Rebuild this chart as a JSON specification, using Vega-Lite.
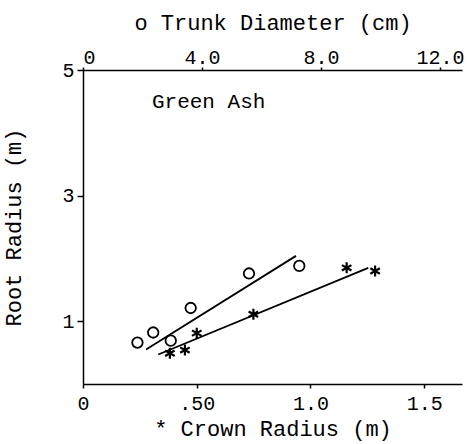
{
  "$schema": "https://vega.github.io/schema/vega-lite/v6.json",
  "width": 379,
  "height": 314,
  "autosize": {"type": "none"},
  "padding": {"left": 83, "top": 70, "right": 6, "bottom": 60},
  "background": "white",
  "config": {
    "view": {"stroke": null},
    "font": "Liberation Mono",
    "axis": {
      "grid": false,
      "domainColor": "black",
      "domainWidth": 1.5,
      "tickColor": "black",
      "tickWidth": 1.5,
      "labelColor": "black",
      "titleColor": "black",
      "labelFont": "Liberation Mono",
      "titleFont": "Liberation Mono",
      "labelFontSize": 20,
      "titleFontSize": 22,
      "titleFontWeight": "normal"
    }
  },
  "datasets": {
    "trunk": [
      {"trunk_cm": 1.83, "root_m": 0.66},
      {"trunk_cm": 2.36, "root_m": 0.82},
      {"trunk_cm": 2.95, "root_m": 0.69},
      {"trunk_cm": 3.62, "root_m": 1.21},
      {"trunk_cm": 5.58, "root_m": 1.76},
      {"trunk_cm": 7.27, "root_m": 1.88}
    ],
    "trunkFit": [
      {"trunk_cm": 2.12, "root_m": 0.55},
      {"trunk_cm": 7.16, "root_m": 2.04}
    ],
    "crown": [
      {"crown_m": 0.382, "root_m": 0.49},
      {"crown_m": 0.448, "root_m": 0.54},
      {"crown_m": 0.50, "root_m": 0.81},
      {"crown_m": 0.749, "root_m": 1.11},
      {"crown_m": 1.159, "root_m": 1.85},
      {"crown_m": 1.284, "root_m": 1.80}
    ],
    "crownFit": [
      {"crown_m": 0.331, "root_m": 0.47},
      {"crown_m": 1.254, "root_m": 1.85}
    ],
    "label": [
      {"crown_m": 0.303, "root_m": 4.49, "text": "Green Ash"}
    ]
  },
  "layer": [
    {
      "layer": [
        {
          "data": {"name": "trunkFit"},
          "mark": {"type": "line", "color": "black", "strokeWidth": 1.8},
          "encoding": {
            "x": {
              "field": "trunk_cm", "type": "quantitative",
              "scale": {"domain": [0, 12.74], "nice": false, "zero": true},
              "axis": {
                "orient": "top",
                "title": "o Trunk Diameter (cm)",
                "values": [0, 4, 8, 12],
                "labelExpr": "datum.value == 0 ? '0' : format(datum.value, '.1f')",
                "tickSize": 3,
                "labelPadding": 0,
                "titlePadding": 13
              }
            },
            "y": {
              "field": "root_m", "type": "quantitative",
              "title": "Root Radius (m)",
              "scale": {"domain": [0, 5], "nice": false},
              "axis": {
                "values": [1, 3, 5],
                "format": "d",
                "tickSize": 6,
                "labelPadding": 3,
                "titlePadding": 36
              }
            }
          }
        },
        {
          "data": {"name": "trunk"},
          "mark": {"type": "point", "shape": "circle", "filled": false, "color": "black", "size": 110, "strokeWidth": 1.8, "opacity": 1},
          "encoding": {
            "x": {"field": "trunk_cm", "type": "quantitative"},
            "y": {"field": "root_m", "type": "quantitative", "title": "Root Radius (m)"}
          }
        }
      ]
    },
    {
      "layer": [
        {
          "data": {"name": "crownFit"},
          "mark": {"type": "line", "color": "black", "strokeWidth": 1.8},
          "encoding": {
            "x": {
              "field": "crown_m", "type": "quantitative",
              "scale": {"domain": [0, 1.666], "nice": false, "zero": true},
              "axis": {
                "orient": "bottom",
                "title": "* Crown Radius (m)",
                "values": [0, 0.5, 1, 1.5],
                "labelExpr": "datum.value == 0 ? '0' : datum.value == 0.5 ? '.50' : format(datum.value, '.1f')",
                "labelFlush": false,
                "tickSize": 4,
                "labelPadding": 5,
                "titlePadding": 5
              }
            },
            "y": {"field": "root_m", "type": "quantitative", "title": "Root Radius (m)"}
          }
        },
        {
          "data": {"name": "crown"},
          "mark": {"type": "point", "shape": "M0,-1L0,1M-0.87,-0.5L0.87,0.5M-0.87,0.5L0.87,-0.5", "filled": false, "color": "black", "size": 120, "strokeWidth": 2.2, "opacity": 1},
          "encoding": {
            "x": {"field": "crown_m", "type": "quantitative"},
            "y": {"field": "root_m", "type": "quantitative", "title": "Root Radius (m)"}
          }
        },
        {
          "data": {"name": "label"},
          "mark": {"type": "text", "align": "left", "baseline": "middle", "fontSize": 21, "font": "Liberation Mono", "color": "black"},
          "encoding": {
            "x": {"field": "crown_m", "type": "quantitative"},
            "y": {"field": "root_m", "type": "quantitative", "title": "Root Radius (m)"},
            "text": {"field": "text"}
          }
        }
      ]
    }
  ],
  "resolve": {"scale": {"x": "independent"}, "axis": {"x": "independent"}}
}
